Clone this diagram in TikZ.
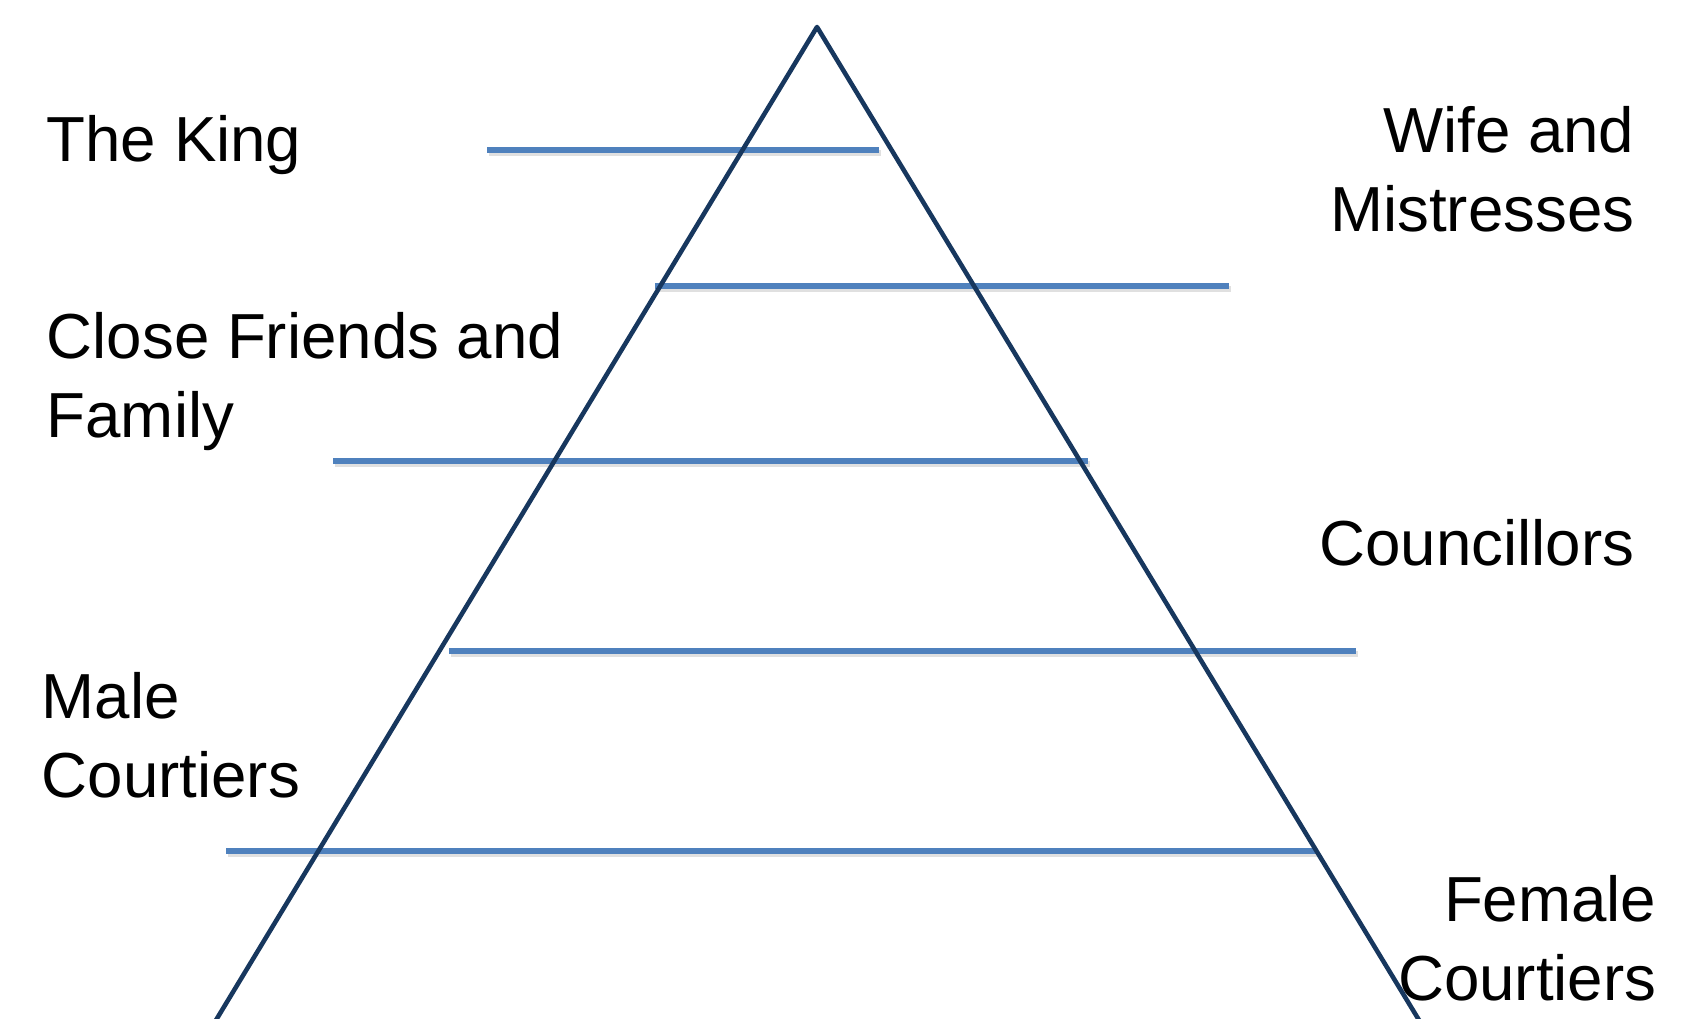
\documentclass[tikz,border=0pt]{standalone}
\usepackage{fontspec}
\setmainfont{Liberation Sans}
\usetikzlibrary{positioning}
\definecolor{navy}{HTML}{17375E}
\definecolor{tierblue}{HTML}{4F81BD}
\tikzset{
  side/.style={draw=navy,line width=1.3pt,line join=round},
  tier/.style={draw=tierblue,line width=1.6pt},
  tiershade/.style={draw=black,opacity=0.12,line width=1.8pt},
  lbl/.style={font=\fontsize{18.1}{22.2}\selectfont,inner sep=0pt},
  lbll/.style={lbl,align=left,anchor=base west},
  lblr/.style={lbl,align=right,anchor=base east},
}
\begin{document}
\begin{tikzpicture}[x=0.01cm,y=-0.01cm]
  \useasboundingbox (0,0) rectangle (1704,1018);
  % tiers, with a faint shadow
  \foreach \y/\a/\b in {150/487/879,286/655/1229,461/333/1088,651/449/1356,851/226/1317}{
    \draw[tiershade] (\a+2,\y+3) -- (\b+2,\y+3);
    \draw[tier] (\a,\y) -- (\b,\y);
  }
  % pyramid
  \coordinate (apex) at (817,27);
  \coordinate (bl) at (210,1030);
  \coordinate (br) at (1425,1030);
  \draw[side] (bl) -- (apex) -- (br);
  % labels (base = last line)
  \node[lbll] (king) at (46,161) {The King};
  \node[lblr] (wife) at (1635,231) {Wife and\\Mistresses};
  \node[lbll] (close) at (46,437) {Close Friends and\\Family};
  \node[lblr] (council) at (1635,565) {Councillors};
  \node[lbll] (male) at (41,797) {Male\\Courtiers};
  \node[lblr] (female) at (1657,1000) {Female\\Courtiers};
\end{tikzpicture}
\end{document}
